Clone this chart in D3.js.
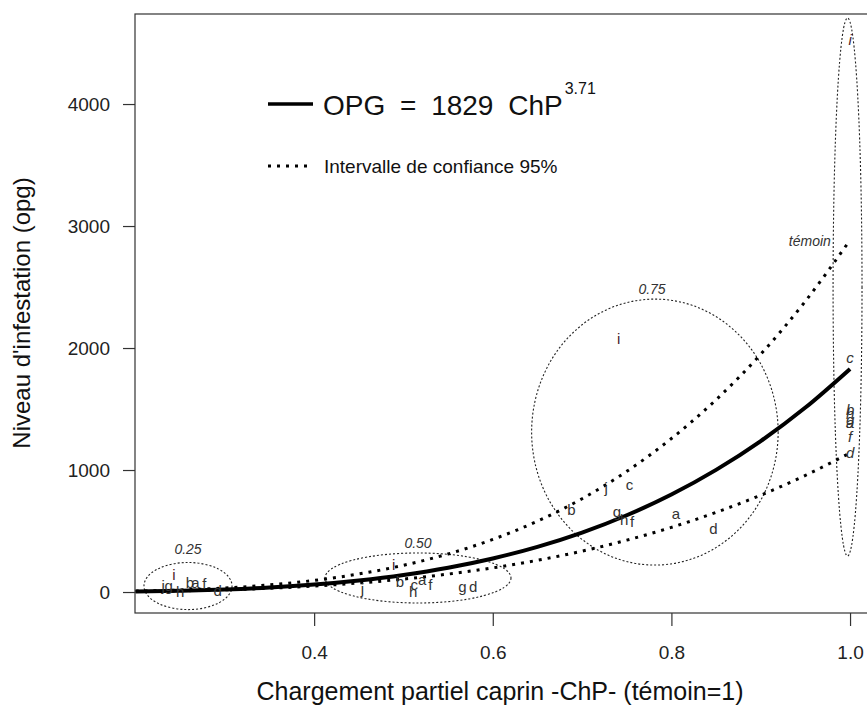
<!DOCTYPE html>
<html>
<head>
<meta charset="utf-8">
<script src="https://cdn.jsdelivr.net/npm/d3@7"></script>
<style>
  body { margin: 0; background: #fff; }
  svg { display: block; font-family: "Liberation Sans", Arial, sans-serif; }
</style>
</head>
<body>
<svg id="chart" width="867" height="708"></svg>
<script>
// Fitted curve and 95% confidence band
const curveChp = [0.2, 0.25, 0.3, 0.35, 0.4, 0.45, 0.5, 0.55, 0.6, 0.65, 0.7, 0.75, 0.8, 0.85, 0.9, 0.95, 1.0];
const fitOpg   = [5, 11, 21, 37, 61, 95, 140, 199, 275, 370, 487, 629, 799, 1001, 1237, 1512, 1829];
const upperOpg = [7, 17, 33, 58, 95, 148, 219, 312, 431, 581, 765, 989, 1258, 1576, 1949, 2384, 2885];
const lowerOpg = [5, 10, 18, 31, 49, 74, 106, 147, 198, 260, 335, 425, 530, 653, 794, 956, 1140];

// Letters (one per parcel) for each partial stocking rate
const group25  = [["i", 0.243, 139], ["j", 0.231, 49], ["g", 0.237, 49], ["h", 0.250, 0],
                  ["b", 0.261, 74], ["a", 0.267, 74], ["f", 0.277, 66], ["d", 0.292, 8]];
const group50  = [["i", 0.489, 221], ["j", 0.454, 25], ["b", 0.496, 82], ["c", 0.512, 57],
                  ["a", 0.521, 98], ["h", 0.511, 0], ["f", 0.530, 57], ["g", 0.566, 41], ["d", 0.578, 41]];
const group75  = [["i", 0.741, 2074], ["j", 0.727, 852], ["c", 0.753, 877], ["b", 0.688, 672],
                  ["g", 0.739, 656], ["h", 0.747, 590], ["f", 0.756, 574], ["a", 0.805, 639], ["d", 0.847, 516]];
const group100 = [["i", 1.0, 4525], ["c", 1.0, 1918], ["b", 1.0, 1490], ["h", 1.0, 1460],
                  ["g", 1.0, 1415], ["a", 1.0, 1385], ["f", 1.0, 1270], ["d", 1.0, 1139]];

const groupLabels = ["0.25", "0.50", "0.75", "témoin"];
const xTicks = [0.4, 0.6, 0.8, 1.0];
const yTicks = [0, 1000, 2000, 3000, 4000];

// Ellipses drawn around each group (centre and radii in data units)
const ellipses = [
  { cx: 0.2588, cy: 49,   rx: 0.0493, ry: 193 },
  { cx: 0.5163, cy: 115,  rx: 0.1041, ry: 205 },
  { cx: 0.7815, cy: 1311, rx: 0.1380, ry: 1090 },
  { cx: 0.9972, cy: 2500, rx: 0.0162, ry: 2205 }
];

// Plot region
const PLOT = { left: 135, top: 14, right: 868, bottom: 613 };

const svg = d3.select('#chart');

const x = d3.scaleLinear().domain([0.2, 1.0201]).range([135.5, PLOT.right]);
const y = d3.scaleLinear().domain([-172, 4738]).range([PLOT.bottom, PLOT.top]);

const plotW = PLOT.right - PLOT.left;
const plotH = PLOT.bottom - PLOT.top;

// Clip to the plot region
svg.append('clipPath').attr('id', 'plot-clip')
  .append('rect').attr('x', PLOT.left).attr('y', PLOT.top).attr('width', plotW).attr('height', plotH);

const plot = svg.append('g').attr('clip-path', 'url(#plot-clip)');

// Group ellipses (fine dotted)
plot.selectAll('.group-ellipse')
  .data(ellipses)
  .enter()
  .append('ellipse')
  .attr('class', 'group-ellipse')
  .attr('cx', d => x(d.cx))
  .attr('cy', d => y(d.cy))
  .attr('rx', d => x(d.cx + d.rx) - x(d.cx))
  .attr('ry', d => y(d.cy - d.ry) - y(d.cy))
  .attr('fill', 'none')
  .attr('stroke', '#222')
  .attr('stroke-width', 1.1)
  .attr('stroke-dasharray', '2,2');

// Curves
const line = d3.line()
  .x(d => x(d[0]))
  .y(d => y(d[1]))
  .curve(d3.curveMonotoneX);

const zipWith = vals => curveChp.map((c, i) => [c, vals[i]]);

[upperOpg, lowerOpg].forEach(vals => {
  plot.append('path')
    .datum(zipWith(vals))
    .attr('d', line)
    .attr('fill', 'none')
    .attr('stroke', '#000')
    .attr('stroke-width', 3)
    .attr('stroke-dasharray', '3,6');
});

plot.append('path')
  .datum(zipWith(fitOpg))
  .attr('d', line)
  .attr('fill', 'none')
  .attr('stroke', '#000')
  .attr('stroke-width', 4);

// Letters for each group
function drawLetters(data, italic) {
  plot.append('g')
    .selectAll('text')
    .data(data)
    .enter()
    .append('text')
    .attr('x', d => x(d[1]))
    .attr('y', d => y(d[2]))
    .attr('dy', '0.35em')
    .attr('text-anchor', 'middle')
    .attr('font-size', 15)
    .attr('font-style', italic ? 'italic' : 'normal')
    .attr('fill', d => d[0] === 'i' ? '#4a1c28' : '#333')
    .text(d => d[0]);
}
drawLetters(group25, false);
drawLetters(group50, false);
drawLetters(group75, false);
drawLetters(group100, true);

// Group labels (italic), placed above each ellipse
const labelPos = [
  { chp: 0.2588, opg: 355 },
  { chp: 0.5163, opg: 400 },
  { chp: 0.7783, opg: 2480 },
  { chp: 0.955,  opg: 2880 }
];
plot.selectAll('.group-label')
  .data(groupLabels)
  .enter()
  .append('text')
  .attr('class', 'group-label')
  .attr('x', (d, i) => x(labelPos[i].chp))
  .attr('y', (d, i) => y(labelPos[i].opg))
  .attr('dy', '0.35em')
  .attr('text-anchor', 'middle')
  .attr('font-size', 14)
  .attr('font-style', 'italic')
  .attr('fill', '#333')
  .text(d => d);

// Box
svg.append('rect')
  .attr('x', PLOT.left).attr('y', PLOT.top)
  .attr('width', plotW).attr('height', plotH)
  .attr('fill', 'none')
  .attr('stroke', '#333')
  .attr('stroke-width', 1.2);

// Axes
const xAxis = svg.append('g')
  .attr('transform', `translate(0,${PLOT.bottom})`)
  .call(d3.axisBottom(x).tickValues(xTicks).tickSize(13).tickPadding(20).tickFormat(d3.format('.1f')));

const yAxis = svg.append('g')
  .attr('transform', `translate(${PLOT.left},0)`)
  .call(d3.axisLeft(y).tickValues(yTicks).tickSize(12).tickPadding(13).tickFormat(d3.format('d')));

[xAxis, yAxis].forEach(ax => {
  ax.select('.domain').remove();
  ax.selectAll('.tick line').attr('stroke', '#333').attr('stroke-width', 1.2);
  ax.selectAll('.tick text')
    .attr('font-family', '"Liberation Sans", Arial, sans-serif')
    .attr('font-size', 19)
    .attr('fill', '#222');
});

// Axis titles
svg.append('text')
  .attr('x', 500)
  .attr('y', 700)
  .attr('text-anchor', 'middle')
  .attr('font-size', 25)
  .attr('fill', '#111')
  .text('Chargement partiel caprin -ChP- (témoin=1)');

svg.append('text')
  .attr('transform', 'translate(22,313) rotate(-90)')
  .attr('dy', '0.35em')
  .attr('text-anchor', 'middle')
  .attr('font-size', 24)
  .attr('fill', '#111')
  .text("Niveau d'infestation (opg)");

// Legend
const legend = svg.append('g');
legend.append('line')
  .attr('x1', 268).attr('x2', 313).attr('y1', 104).attr('y2', 104)
  .attr('stroke', '#000').attr('stroke-width', 3.5);
const eq = legend.append('text')
  .attr('x', 323).attr('y', 105).attr('dy', '0.35em')
  .attr('font-size', 28).attr('fill', '#111')
  .attr('word-spacing', 7)
  .text('OPG = 1829 ChP');
const eqEnd = 323 + eq.node().getComputedTextLength();
legend.append('text')
  .attr('x', eqEnd + 2).attr('y', 88).attr('dy', '0.35em')
  .attr('font-size', 16).attr('fill', '#111')
  .text('3.71');

legend.append('line')
  .attr('x1', 268).attr('x2', 313).attr('y1', 166).attr('y2', 166)
  .attr('stroke', '#000').attr('stroke-width', 3)
  .attr('stroke-dasharray', '3,6');
legend.append('text')
  .attr('x', 324).attr('y', 166).attr('dy', '0.35em')
  .attr('font-size', 19).attr('fill', '#111')
  .text('Intervalle de confiance 95%');
</script>
</body>
</html>
